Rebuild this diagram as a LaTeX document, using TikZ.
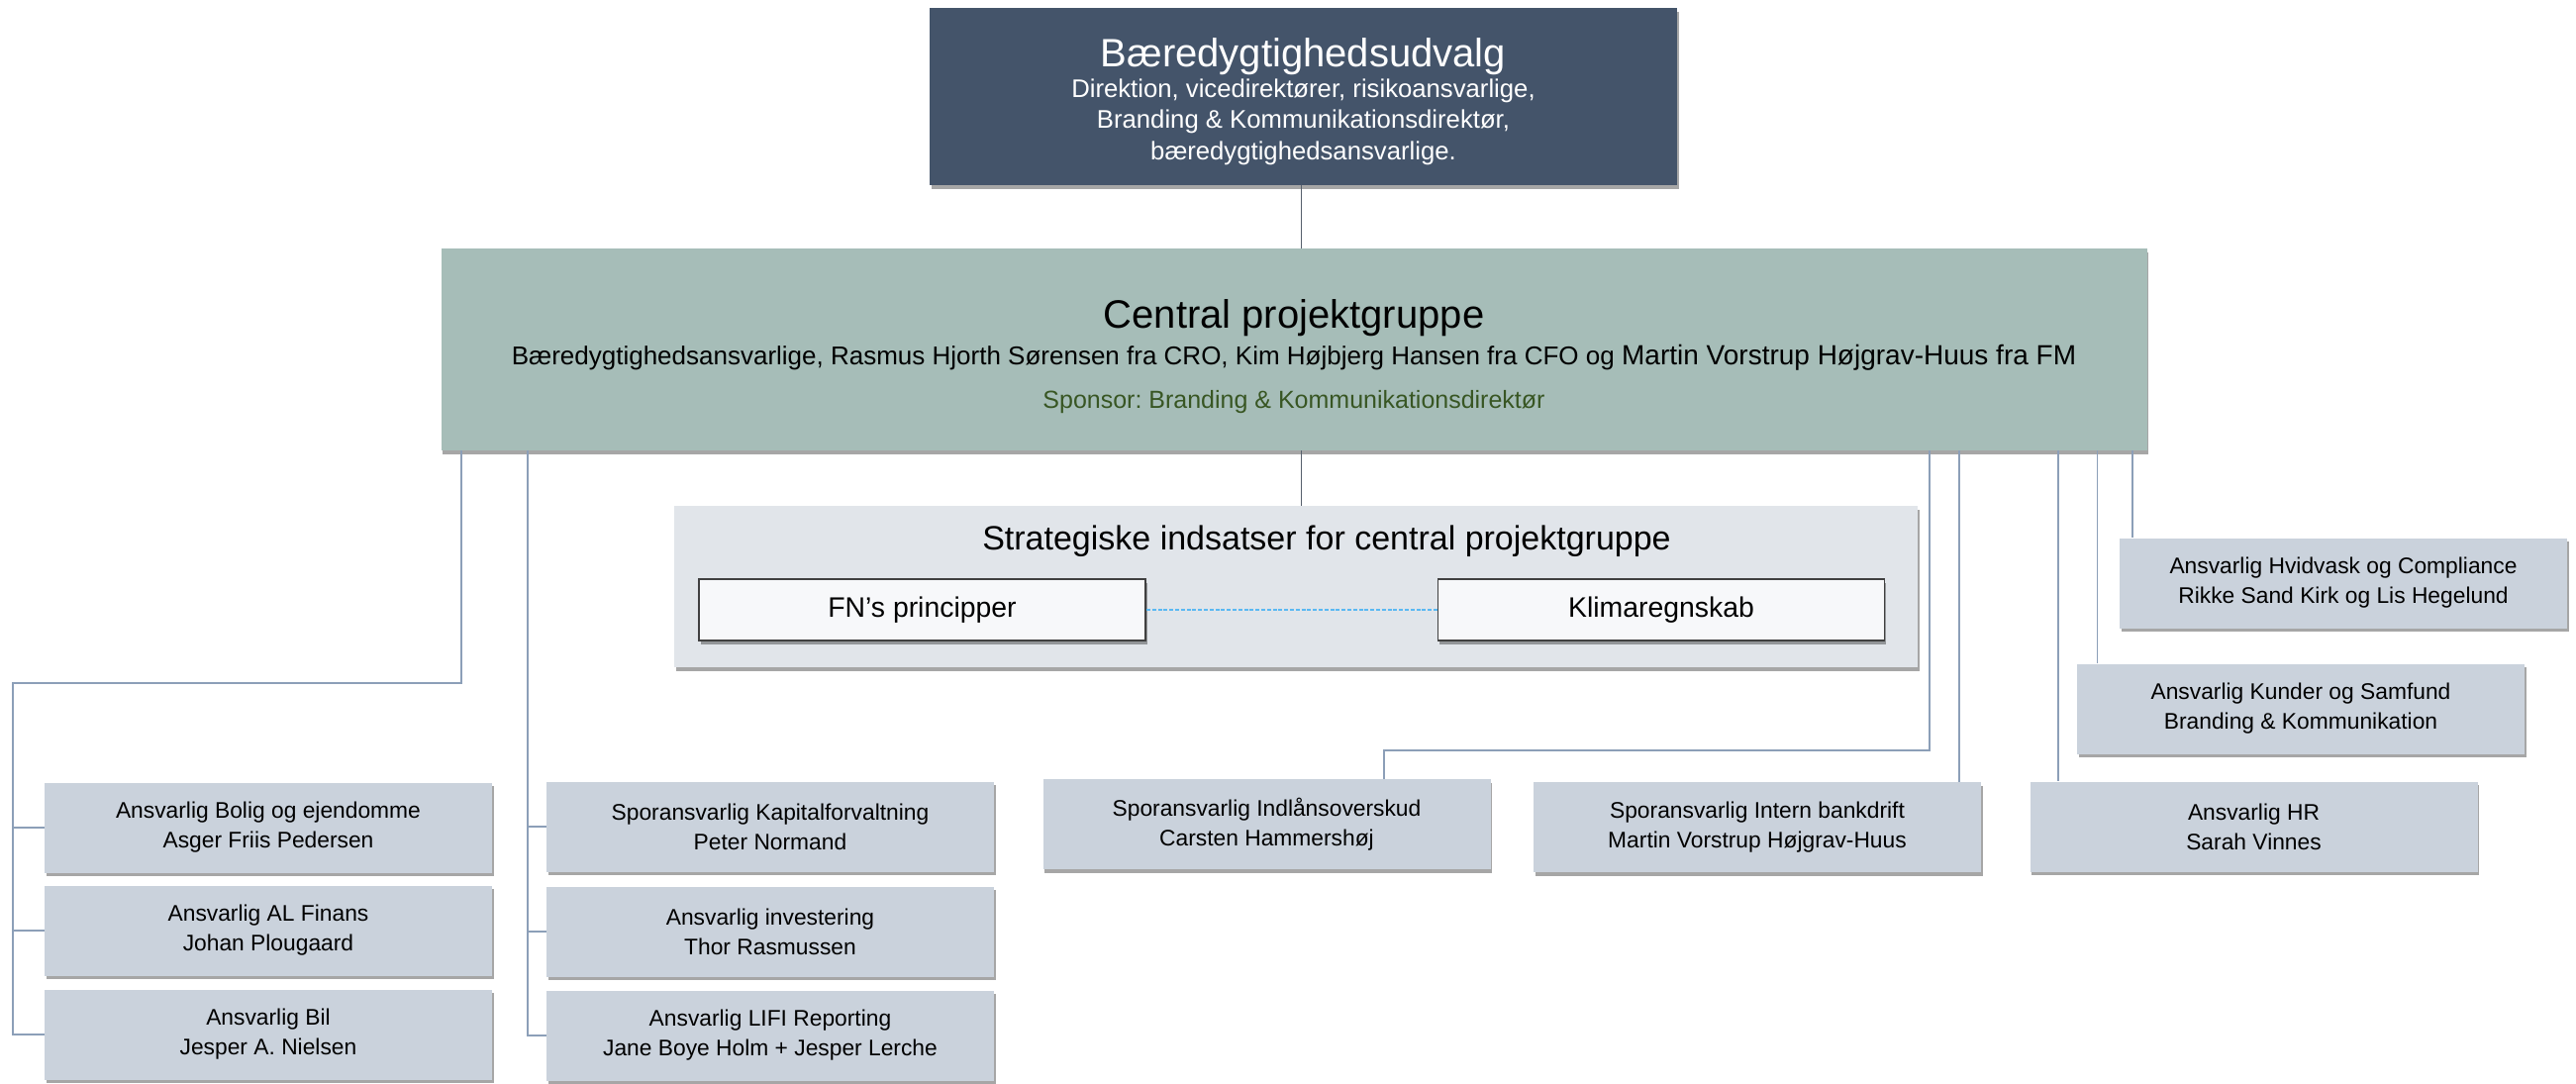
\documentclass[tikz,border=0pt]{standalone}
\usepackage{fontspec}
\setmainfont{Liberation Sans}
\frenchspacing
\usetikzlibrary{shadows}
\definecolor{topfill}{HTML}{44546A}
\definecolor{centralfill}{HTML}{A6BDB8}
\definecolor{sponsorcol}{HTML}{385623}
\definecolor{stratfill}{HTML}{E1E5EA}
\definecolor{innerfill}{HTML}{F7F8FA}
\definecolor{innerdraw}{HTML}{404040}
\definecolor{leaffill}{HTML}{CAD2DC}
\definecolor{conncol}{HTML}{8C9FB8}
\definecolor{darkconn}{HTML}{56606C}
\definecolor{dotcol}{HTML}{5AB8F2}
\begin{document}
\begin{tikzpicture}[x=0.5pt,y=-0.5pt,
  shadowed/.style={drop shadow={shadow xshift=0.8pt,shadow yshift=-1.8pt,opacity=0.35,fill=black}},
  topbox/.style={rectangle,inner sep=0pt,fill=topfill,shadowed,minimum width=377.5pt,minimum height=89.5pt},
  centralbox/.style={rectangle,inner sep=0pt,fill=centralfill,shadowed,minimum width=861.5pt,minimum height=102pt},
  stratbox/.style={rectangle,inner sep=0pt,fill=stratfill,shadowed,minimum width=628pt,minimum height=81.5pt},
  innerbox/.style={rectangle,inner sep=0pt,fill=innerfill,draw=innerdraw,line width=0.9pt,shadowed,
     minimum width=225.5pt,minimum height=31pt,font=\fontsize{14.2}{17}\selectfont},
  leaf/.style={rectangle,inner sep=0pt,fill=leaffill,shadowed,minimum width=226pt,minimum height=45.5pt,
     align=center,font=\fontsize{11.4}{15}\selectfont},
  lbl/.style={inner sep=0pt,align=center},
  conn/.style={draw=conncol,line width=0.9pt},
  dconn/.style={draw=darkconn,line width=0.9pt}]
\useasboundingbox (0,0) rectangle (2602,1094);

% top box
\node[topbox] (top) at (1316.5,97.5) {};
\node[lbl,text=white,font=\fontsize{20}{24}\selectfont] (toptitle) at (1316.5,57) {Bæredygtighedsudvalg};
\node[lbl,text=white,font=\fontsize{12.85}{15.75}\selectfont] (topsub) at (1316.5,123)
  {Direktion, vicedirektører, risikoansvarlige,\\Branding \& Kommunikationsdirektør,\\bæredygtighedsansvarlige.};

% central box
\node[centralbox] (central) at (1307,353) {};
\node[lbl,font=\fontsize{20}{24}\selectfont] (ctitle) at (1307,321) {Central projektgruppe};
\node[lbl,font=\fontsize{13}{16}\selectfont] (cmembers) at (1307,361)
  {Bæredygtighedsansvarlige, Rasmus Hjorth Sørensen fra CRO, Kim Højbjerg Hansen fra CFO og {\fontsize{14}{16}\selectfont Martin Vorstrup Højgrav-Huus fra FM}};
\node[lbl,text=sponsorcol,font=\fontsize{12.5}{15}\selectfont] (sponsor) at (1307,406) {Sponsor: Branding \& Kommunikationsdirektør};

% strategic box
\node[stratbox] (strat) at (1309,592.5) {};
\node[lbl,font=\fontsize{17}{20}\selectfont] (stitle) at (1340,547) {Strategiske indsatser for central projektgruppe};
\node[innerbox] (fn) at (931.5,616) {FN’s principper};
\node[innerbox] (klima) at (1678,616) {Klimaregnskab};
\draw[draw=dotcol,line width=1.3pt,dash pattern=on 2pt off 0.9pt] (fn.east) -- (klima.west);

% leaf boxes
\node[leaf] (l1) at (271,836) {Ansvarlig Bolig og ejendomme\\Asger Friis Pedersen};
\node[leaf] (l2) at (271,940) {Ansvarlig AL Finans\\Johan Plougaard};
\node[leaf] (l3) at (271,1045) {Ansvarlig Bil\\Jesper A. Nielsen};
\node[leaf] (m1) at (778,835) {Sporansvarlig Kapitalforvaltning\\Peter Normand};
\node[leaf] (m2) at (778,941) {Ansvarlig investering\\Thor Rasmussen};
\node[leaf] (m3) at (778,1046) {Ansvarlig LIFI Reporting\\Jane Boye Holm + Jesper Lerche};
\node[leaf] (ind) at (1279.5,832.5) {Sporansvarlig Indlånsoverskud\\Carsten Hammershøj};
\node[leaf] (int) at (1775,835.5) {Sporansvarlig Intern bankdrift\\Martin Vorstrup Højgrav-Huus};
\node[leaf] (hr) at (2276.5,835) {Ansvarlig HR\\Sarah Vinnes};
\node[leaf] (kun) at (2324,716) {Ansvarlig Kunder og Samfund\\Branding \& Kommunikation};
\node[leaf] (hvid) at (2367,589) {Ansvarlig Hvidvask og Compliance\\Rikke Sand Kirk og Lis Hegelund};

% dark connectors
\draw[dconn] ([xshift=-1pt]top.south) -- ([xshift=-1pt]top.south |- central.north);
\draw[dconn] ([xshift=-1pt]top.south |- central.south) -- ([xshift=-1pt]top.south |- strat.north);

% left group
\coordinate (jL) at (13,690);
\draw[conn] ([xshift=10.25pt]central.south west) |- (jL) |- (l1.west);
\draw[conn] (jL) |- (l2.west);
\draw[conn] (jL) |- (l3.west);

% second group
\coordinate (jM) at ([xshift=44pt]central.south west);
\draw[conn] (jM) |- (m1.west);
\draw[conn] (jM) |- (m2.west);
\draw[conn] (jM) |- (m3.west);

% right group
\draw[conn] ([xshift=-110pt]central.south east) |- ([xshift=59.25pt,yshift=14.5pt]ind.north) -- ([xshift=59.25pt]ind.north);
\draw[conn] ([xshift=-95pt]central.south east) -- ([xshift=-95pt]central.south east |- int.north);
\draw[conn] ([xshift=-45pt]central.south east) -- ([xshift=-45pt]central.south east |- hr.north);
\draw[conn] ([xshift=-25.25pt]central.south east) -- ([xshift=-25.25pt]central.south east |- kun.north);
\draw[conn] ([xshift=-7.5pt]central.south east) -- ([xshift=-7.5pt]central.south east |- hvid.north);
\end{tikzpicture}
\end{document}
